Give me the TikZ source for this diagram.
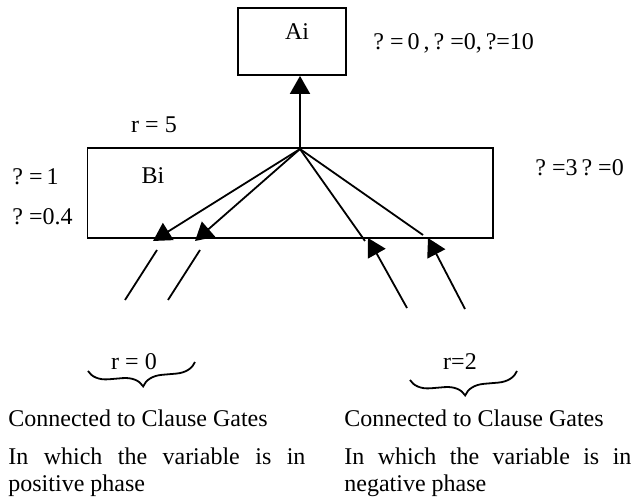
\documentclass[tikz,border=0pt]{standalone}
\usepackage{fontspec}
\setmainfont{Liberation Serif}
\usetikzlibrary{arrows.meta,decorations.pathreplacing}
\newcommand{\tightsp}{\spaceskip=2pt plus 1pt\relax}
\begin{document}
\begin{tikzpicture}[x=0.5pt,y=-0.5pt,
  conn/.style={line width=0.9pt},
  arr/.style={conn,-{Triangle[length=9pt,width=10pt]}},
  boxnode/.style={draw,line width=0.9pt,inner sep=0pt},
  txt/.style={inner sep=0pt,font=\fontsize{12}{14}\selectfont},
  bracestyle/.style={line width=0.9pt,decorate,decoration={brace,mirror,amplitude=10pt,raise=0pt}}
]
\useasboundingbox (0,0) rectangle (642,501);

% boxes
\node[boxnode,minimum width=54pt,minimum height=33.5pt] (A) at (292,41.5) {};
\node[txt] (Atext) at (297,32) {Ai};
\node[boxnode,minimum width=202.75pt,minimum height=45pt] (B) at (290.25,193) {};
\node[txt] (Btext) at (153,176) {Bi};

% coordinates
\coordinate (apex) at (300,149);
\coordinate (l1) at (153,241);
\coordinate (l2) at (195,241);
\coordinate (r1) at (365,241);
\coordinate (r2) at (423,235);
\coordinate (lo1a) at (157,250);
\coordinate (lo1b) at (125,300);
\coordinate (lo2a) at (200,250);
\coordinate (lo2b) at (168,300);
\coordinate (ro1a) at (407,308);
\coordinate (ro1b) at (368,238);
\coordinate (ro2a) at (465,309);
\coordinate (ro2b) at (428,238);

% connectors
\draw[arr] (apex) -- (A.south -| apex);
\draw[arr] (apex) -- (l1);
\draw[arr] (apex) -- (l2);
\draw[conn] (apex) -- (r1);
\draw[conn] (apex) -- (r2);
\draw[conn] (lo1a) -- (lo1b);
\draw[conn] (lo2a) -- (lo2b);
\draw[arr] (ro1a) -- (ro1b);
\draw[arr] (ro2a) -- (ro2b);

% labels
\node[txt,anchor=west] (topvals) at (373,43) {\tightsp ? = 0 , ? =0, ?=10};
\node[txt] (r5) at (154,125) {r = 5};
\node[txt,anchor=west] (p1) at (12,177) {\tightsp ? = 1};
\node[txt,anchor=west] (p2) at (12,217) {\tightsp ? =0.4};
\node[txt,anchor=west] (rvals) at (535,168) {\tightsp ? =3 ? =0};

% braces
\coordinate (bl1) at (88,371);
\coordinate (bl2) at (195,362);
\coordinate (br1) at (410,380);
\coordinate (br2) at (517,371);
\draw[bracestyle] (bl1) -- (bl2);
\draw[bracestyle] (br1) -- (br2);
\node[txt] (r0) at (134,362) {r = 0};
\node[txt] (r2lab) at (460,362) {r=2};

% bottom texts
\node[txt,anchor=base west] (c1) at (8,427) {Connected to Clause Gates};
\node[txt,anchor=base west] (w1) at (8,465) {\makebox[148.5pt][s]{In which the variable is in}};
\node[txt,anchor=base west] (ph1) at (8,492) {positive phase};
\node[txt,anchor=base west] (c2) at (344,427) {Connected to Clause Gates};
\node[txt,anchor=base west] (w2) at (344,465) {\makebox[143.5pt][s]{In which the variable is in}};
\node[txt,anchor=base west] (ph2) at (344,492) {negative phase};
\end{tikzpicture}
\end{document}
